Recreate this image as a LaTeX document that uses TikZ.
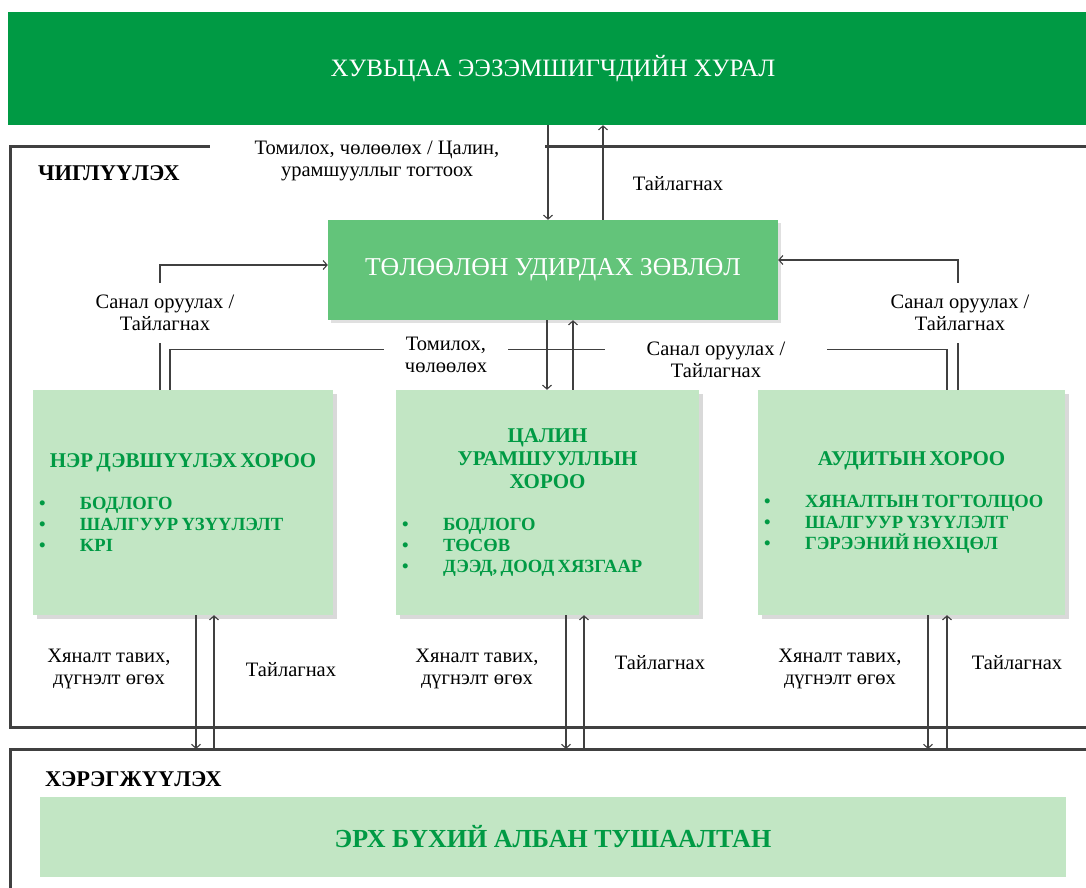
\documentclass[tikz,border=0pt]{standalone}
\usepackage{fontspec}
\setmainfont{Liberation Serif}
\usetikzlibrary{arrows.meta,shadows}
\definecolor{hurgreen}{RGB}{0,154,68}
\definecolor{tuzgreen}{RGB}{99,196,122}
\definecolor{lightgreen}{RGB}{194,230,196}
\definecolor{linegray}{RGB}{64,64,64}
\newcommand{\ctitle}{\fontsize{21}{23}\selectfont\bfseries}
\newcommand{\citem}{\fontsize{18.6}{21}\selectfont\bfseries}
\newcommand{\cbul}{\makebox[41pt][l]{\textbullet}}

\begin{document}
\begin{tikzpicture}[x=1pt,y=1pt]
    \tikzstyle{every node}+=[inner sep=0pt]
    \tikzstyle{frame}=[draw=linegray, line width=3pt]
    \tikzstyle{arr}=[draw=linegray, line width=1.1pt, -{Straight Barb[length=4pt,width=9pt]}]
    \tikzstyle{plain}=[draw=linegray, line width=1.1pt]
    \tikzstyle{lbl}=[align=center, font=\fontsize{20.5}{22}\selectfont]
    \tikzstyle{gaplbl}=[lbl, fill=white]
    \tikzstyle{committee}=[fill=lightgreen, minimum height=225pt, inner xsep=6pt, align=center, text=hurgreen, drop shadow={shadow xshift=4pt, shadow yshift=-4pt, fill=black!15, opacity=1}]
    \tikzstyle{sectitle}=[anchor=west, font=\fontsize{22.5}{25}\selectfont\bfseries]
    \clip (0,0) rectangle (1086,-888);
    % top
    \node[fill=hurgreen, minimum width=1090pt, minimum height=113pt, text=white, font=\fontsize{25}{30}\selectfont] (hural) at (553,-68.5) {ХУВЬЦАА ЭЭЗЭМШИГЧДИЙН ХУРАЛ};
    % frames
    \draw[frame] (10,-146) rectangle (1120,-727);
    \draw[frame] (10,-749) rectangle (1120,-920);
    \coordinate (hereg) at (10,-749);
    \fill[white] (210,-125) rectangle (545,-185);
    \node[lbl] (appoint) at (377,-161) {Томилох, чөлөөлөх / Цалин,\\ урамшууллыг тогтоох};
    \node[sectitle] (chig) at (38,-173) {ЧИГЛҮҮЛЭХ};
    \node[sectitle] (hergj) at (45,-779) {ХЭРЭГЖҮҮЛЭХ};
    % boxes
    \node[fill=tuzgreen, minimum width=450pt, minimum height=100pt, text=white, font=\fontsize{25.7}{30}\selectfont, drop shadow={shadow xshift=3pt, shadow yshift=-3pt, fill=black!12, opacity=1}] (tuz) at (553,-270) {ТӨЛӨӨЛӨН УДИРДАХ ЗӨВЛӨЛ};
    \node[committee, text width=288pt] (nom) at (183,-502.5) {{\ctitle НЭР ДЭВШҮҮЛЭХ ХОРОО\par}\vspace{21pt}
        {\raggedright\citem \cbul БОДЛОГО\\ \cbul ШАЛГУУР ҮЗҮҮЛЭЛТ\\ \cbul KPI\par}};
    \node[committee, text width=291pt] (tsalin) at (547.5,-502.5) {{\ctitle ЦАЛИН\\ УРАМШУУЛЛЫН\\ ХОРОО\par}\vspace{21pt}
        {\raggedright\citem \cbul БОДЛОГО\\ \cbul ТӨСӨВ\\ \cbul ДЭЭД, ДООД ХЯЗГААР\par}};
    \node[committee, text width=295pt] (audit) at (911.5,-502.5) {{\ctitle АУДИТЫН ХОРОО\par}\vspace{21pt}
        {\raggedright\citem \cbul ХЯНАЛТЫН ТОГТОЛЦОО\\ \cbul ШАЛГУУР ҮЗҮҮЛЭЛТ\\ \cbul ГЭРЭЭНИЙ НӨХЦӨЛ\par}};
    \node[fill=lightgreen, minimum width=1026pt, minimum height=80pt, text=hurgreen, font=\fontsize{26}{30}\selectfont\bfseries] (alban) at (553,-837) {ЭРХ БҮХИЙ АЛБАН ТУШААЛТАН};
    % connectors
    \draw[arr] ([xshift=-5pt]tuz.north |- hural.south) -- ([xshift=-5pt]tuz.north);
    \draw[arr] ([xshift=50pt]tuz.north) -- ([xshift=50pt]tuz.north |- hural.south);
    \draw[arr] ([xshift=-23pt]nom.north) |- ([yshift=5pt]tuz.west);
    \draw[arr] ([xshift=46.5pt]audit.north) |- ([yshift=10pt]tuz.east);
    \draw[plain] ([xshift=-13pt]nom.north) -- ++(0,40) -| ([xshift=35.5pt]audit.north);
    \draw[arr] ([xshift=-6pt]tuz.south) -- ([xshift=-6pt]tuz.south |- tsalin.north);
    \draw[arr] ([xshift=20pt]tuz.south |- tsalin.north) -- ([xshift=20pt]tuz.south);
    \draw[arr] ([xshift=13pt]nom.south) -- ([xshift=13pt]nom.south |- hereg);
    \draw[arr] ([xshift=31pt]nom.south |- hereg) -- ([xshift=31pt]nom.south);
    \draw[arr] ([xshift=18.5pt]tsalin.south) -- ([xshift=18.5pt]tsalin.south |- hereg);
    \draw[arr] ([xshift=36.5pt]tsalin.south |- hereg) -- ([xshift=36.5pt]tsalin.south);
    \draw[arr] ([xshift=16.5pt]audit.south) -- ([xshift=16.5pt]audit.south |- hereg);
    \draw[arr] ([xshift=35.5pt]audit.south |- hereg) -- ([xshift=35.5pt]audit.south);
    % labels
    \node[lbl] (rep top) at (678,-184) {Тайлагнах};
    \node[gaplbl, inner xsep=4pt, inner ysep=12pt] (prop left) at (165,-313) {Санал оруулах /\\ Тайлагнах};
    \node[gaplbl, inner xsep=4pt, inner ysep=12pt] (prop right) at (960,-313) {Санал оруулах /\\ Тайлагнах};
    \node[gaplbl, inner xsep=21pt, inner ysep=4pt] (appoint mid) at (446,-355) {Томилох,\\ чөлөөлөх};
    \node[gaplbl, inner xsep=42pt, inner ysep=4pt] (prop mid) at (716,-360) {Санал оруулах /\\ Тайлагнах};
    \node[lbl] (ctrl nom) at (109,-669) {Хяналт тавих,\\ дүгнэлт өгөх};
    \node[lbl] (rep nom) at (291,-670) {Тайлагнах};
    \node[lbl] (ctrl tsalin) at (477,-669) {Хяналт тавих,\\ дүгнэлт өгөх};
    \node[lbl] (rep tsalin) at (660,-663) {Тайлагнах};
    \node[lbl] (ctrl audit) at (840,-669) {Хяналт тавих,\\ дүгнэлт өгөх};
    \node[lbl] (rep audit) at (1017,-663) {Тайлагнах};
\end{tikzpicture}
\end{document}
